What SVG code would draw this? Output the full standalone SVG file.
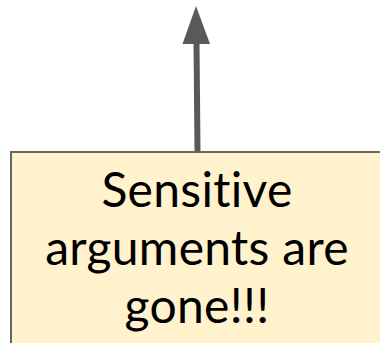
<svg xmlns="http://www.w3.org/2000/svg" width="380" height="343" viewBox="0 0 380 343">
<style>
.box{fill:#fff2cc;stroke:#666666;stroke-width:2}
.lbl{font-family:Lato,"Noto Sans",sans-serif;font-size:48px;fill:#000000;text-anchor:middle;font-variant-ligatures:none;font-feature-settings:"liga" 0;letter-spacing:0.3px}
.edge{stroke:#595959;stroke-width:6;fill:none}
.head{fill:#595959}
</style>
<g id="connectors">
<line class="edge" x1="197.5" y1="151" x2="196.5" y2="42"/>
<polygon class="head" points="196,6 210,44 182.5,44"/>
</g>
<g id="node-sensitive">
<rect class="box" x="11" y="152" width="380" height="200"/>
<text class="lbl" x="197" y="207">Sensitive</text>
<text class="lbl" x="197" y="265">arguments are</text>
<text class="lbl" x="197" y="323">gone!!!</text>
</g>
</svg>
